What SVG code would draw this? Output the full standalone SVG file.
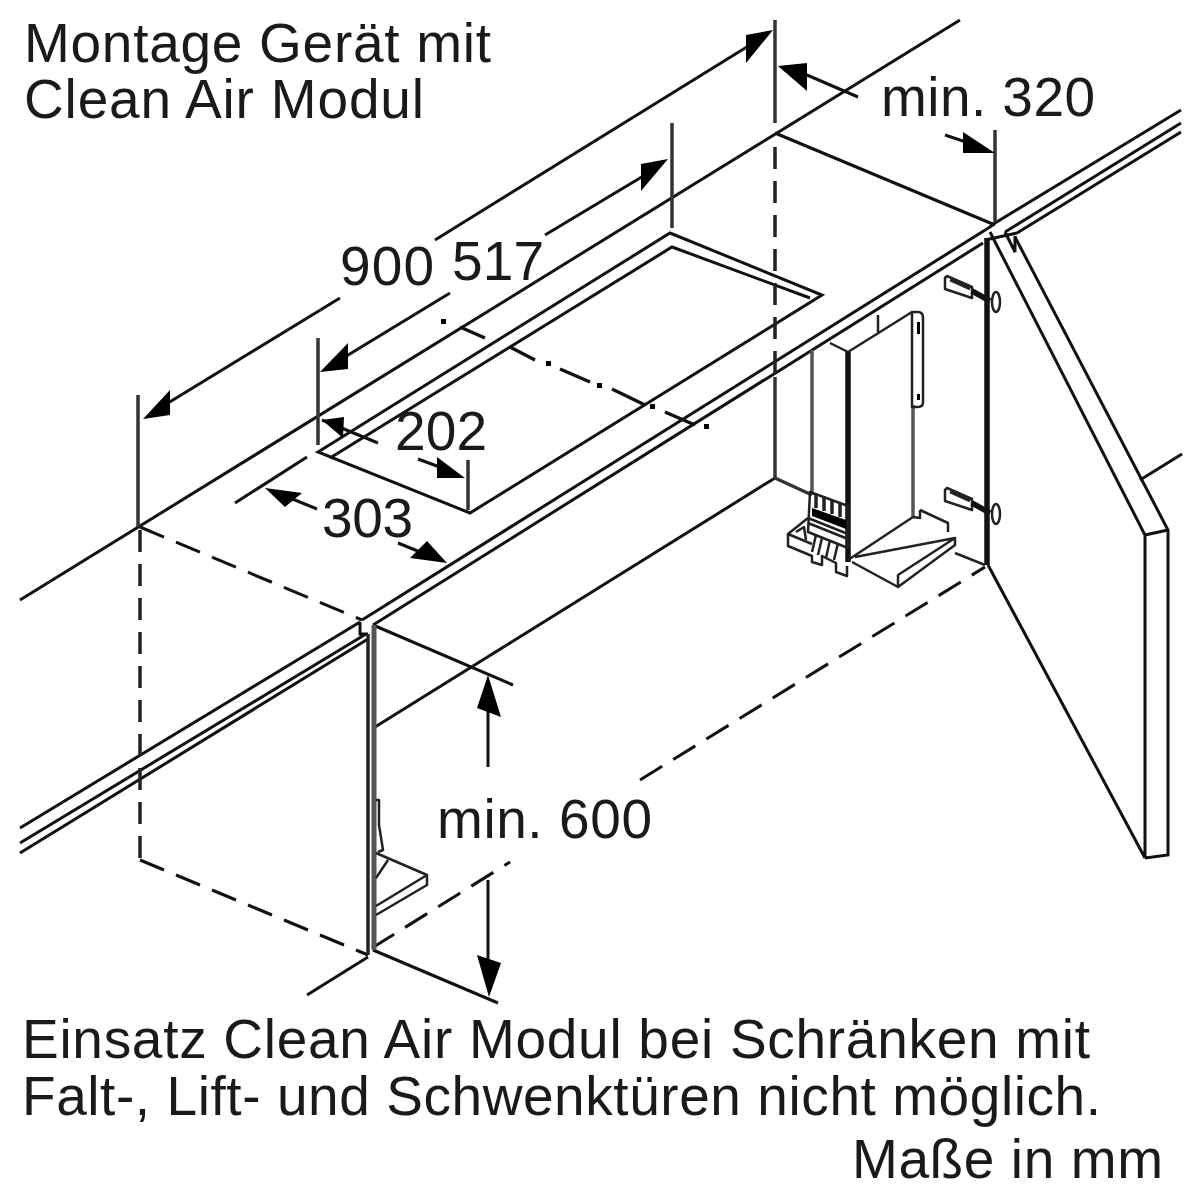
<svg xmlns="http://www.w3.org/2000/svg" width="1200" height="1200" viewBox="0 0 1200 1200">
<style>
.l{fill:none;stroke:#111;stroke-width:3;stroke-linecap:butt;stroke-linejoin:miter}
.e{fill:none;stroke:#333;stroke-width:3.500}
.n{fill:none;stroke:#222;stroke-width:2.500;stroke-linejoin:round}
.g{fill:none;stroke:#555;stroke-width:3.500}
.t{fill:none;stroke:#111;stroke-width:5.500}
.d{fill:none;stroke:#111;stroke-width:3;stroke-dasharray:26 13}
.v{fill:none;stroke:#222;stroke-width:3.500;stroke-dasharray:22 12}
.a{fill:#000;stroke:none}
text{font-family:"Liberation Sans",Arial,sans-serif;fill:#1a1a1a;font-size:55px}
</style>
<rect width="1200" height="1200" fill="#fff"/>
<g id="worktop">
<path class="l" d="M20 600L960 20M362 620L990 227M373 625L983 243M995 223L1181 110M1005 232L1181 123M1017 233L1181 132M20 828L360 622M20 843L366 634M20 853L368 639M360 622V634L368 634M990 227L995 223M985 240L1017 233M1005 232L1015 252V236"/>
<path class="l" d="M318 452L670 233L822 295L470 513Z"/>
<path class="l" d="M330 458L672 247L810 298"/>
</g>
<g id="center-line">
<path class="l" style="stroke-width:3.500" d="M460 327L485 338M510 347L535 360M560 369L590 382M612 389L645 405M665 412L695 425"/>
<path class="a" d="M441 319h5v5h-5zM546 361h5v5h-5zM597 383h5v5h-5zM650 404h5v5h-5zM704 424h5v5h-5z"/>
</g>
<g id="cabinet">
<path class="l" d="M775 133L995 225M373 625L513 685M373 950L498 1003M307 995L368 957M1140 480L1182 454M375 727L775 478"/>
<path class="e" d="M775 377V478L812 495"/>
<path class="d" d="M140 527L362 620M140 860L368 955M372 948L510 862M640 780L985 567"/>
<path class="v" d="M140 530V860M775 147V377"/>
</g>
<g id="left-panel">
<path d="M368 634V955" style="fill:none;stroke:#222;stroke-width:3.500"/>
<path d="M374 625V950" style="fill:none;stroke:#555;stroke-width:5"/>
<path class="n" d="M376 853L427 875V885L376 915M427 875L376 906M376 878L388 860M376 800H379V825L383 850L378 852"/>
</g>
<g id="door">
<path class="t" d="M987 238V565"/>
<path class="l" d="M990 232L1145 535V858M1015 237L1168 530V855L1145 858M1145 535L1168 530M988 565L1145 858"/>
</g>
<g id="module">
<path class="g" d="M812 350V495M913 405V517"/>
<path class="t" d="M848 352V562"/>
<path class="n" d="M830 343L848 352L912 312H918Q923 312 923 318V402Q923 407 918 407H912V312M878 315V332"/>
<path class="a" d="M917 322h3v12h-3zM917 394h3v6h-3z"/>
<path class="n" d="M848 560L913 517M920 510L948 523V532M920 510V518L913 517M855 557L955 538V545L898 587L852 562M955 538L898 575V587M955 553L985 565"/>
<path class="n" d="M810 492L848 506V548L808 532ZM808 518L848 534M808 523L848 539"/>
<path class="n" style="stroke-width:3.500" d="M816 494V508M824 497V511M832 500V514M840 503V517"/>
<path class="a" d="M812 508L846 520V529L812 516Z"/>
<path class="n" d="M808 518L788 534V546L812 556V562L822 565V556L836 563V572L847 576V566M788 534L812 544M796 532L804 527L806 540M816 535L812 552M822 538L818 555M830 540L826 558M838 543L834 560"/>
<path class="n" d="M947 276L972 287V298L945 289V278ZM950 280L970 289"/>
<path class="n" d="M947 488L972 499V510L945 501V490ZM950 492L970 501"/>
<path class="t" d="M972 291L990 301M972 503L990 513"/>
<ellipse class="n" cx="996" cy="302" rx="4" ry="10"/>
<ellipse class="n" cx="996" cy="514" rx="4" ry="10"/>
</g>
<g id="dimensions">
<path class="e" d="M138 395V527M775 20V123M672 123V228M995 130V222M318 338V445M468 460V510"/>
<path class="l" d="M235 503L307 457M150 414L340 298M435 240L750 45M335 363L450 293M545 235L650 172M800 72L858 97M945 135L975 145M322 420L378 443M418 459L445 469M285 496L317 509M398 543L425 554M488 700V767M488 880V970"/>
<path class="a" d="M143 419L170 390V415ZM773 30L746 35V63ZM320 372L348 343V369ZM668 159L641 164V191ZM778 66L807 63V91ZM995 153L963 132V153ZM322 420L344 417L343 438ZM465 478L437 457V478ZM265 488L302 493L285 507ZM447 563L427 541L410 558ZM488 675L477 708L501 717ZM489 997L477 955L501 963Z"/>
</g>
<g id="labels">
<text x="24" y="62" textLength="467">Montage Gerät mit</text>
<text x="24" y="118" textLength="400">Clean Air Modul</text>
<text x="340" y="285" textLength="94">900</text>
<text x="452" y="280" textLength="92">517</text>
<text x="881" y="116" textLength="214">min. 320</text>
<text x="395" y="450" textLength="92">202</text>
<text x="322" y="537" textLength="91">303</text>
<text x="437" y="838" textLength="215">min. 600</text>
<text x="22" y="1058" textLength="1068">Einsatz Clean Air Modul bei Schränken mit</text>
<text x="22" y="1115" textLength="1079">Falt-, Lift- und Schwenktüren nicht möglich.</text>
<text x="852" y="1178" textLength="311">Maße in mm</text>
</g>
</svg>
